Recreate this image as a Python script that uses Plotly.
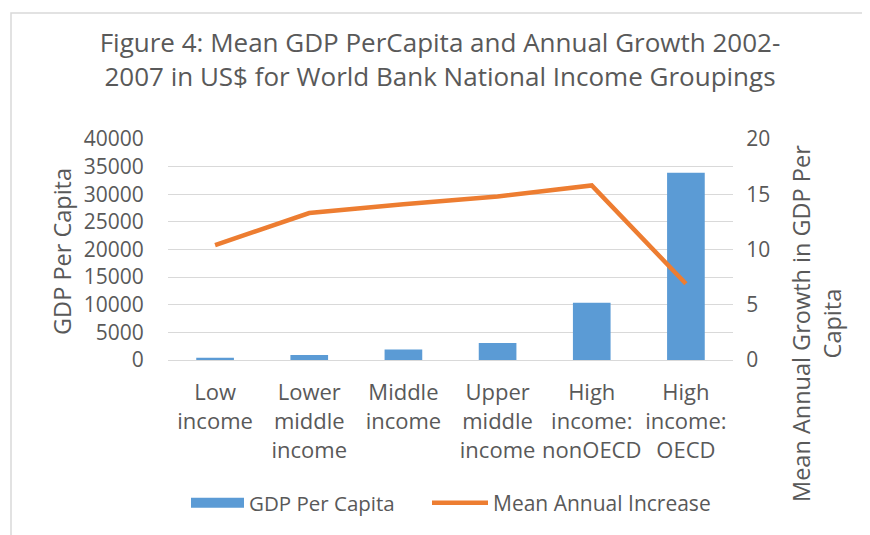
import plotly.graph_objects as go

categories = ["Low<br>income", "Lower<br>middle<br>income", "Middle<br>income",
              "Upper<br>middle<br>income", "High<br>income:<br>nonOECD", "High<br>income:<br>OECD"]
gdp_per_capita = [400, 900, 1920, 3070, 10360, 33900]
mean_annual_increase = [10.4, 13.3, 14.1, 14.8, 15.8, 6.9]

OFF = 8  # page body margin
W, H = 870 - OFF, 535 - OFF
L, R, T, B = 168 - OFF, 733 - OFF, 139 - OFF, 360 - OFF

def px(x):
    return (x - OFF - L) / (R - L)

def py(y):
    return (B - (y - OFF)) / (B - T)

TXT = "#595959"
FONT = "Open Sans"
BLUE = "#5B9BD5"
ORANGE = "#ED7D31"

fig = go.Figure()
fig.add_trace(go.Bar(x=categories, y=gdp_per_capita, name="GDP Per Capita", showlegend=False,
                     marker=dict(color=BLUE, line=dict(width=0)), width=0.4))
# legend entry for the bars drawn as a wide swatch (no data)
fig.add_trace(go.Scatter(x=[None], y=[None], name="GDP Per Capita", mode="lines",
                         line=dict(color=BLUE, width=14), legend="legend"))
fig.add_trace(go.Scatter(x=categories, y=mean_annual_increase, name="Mean Annual Increase",
                         yaxis="y2", mode="lines", legend="legend2",
                         line=dict(color=ORANGE, width=4.5)))

def leg(x, size, iw):
    return dict(orientation="h", x=px(x), xanchor="left", y=py(503), yanchor="middle",
                font=dict(size=size, color=TXT, family=FONT), itemwidth=iw,
                bgcolor="rgba(0,0,0,0)")

fig.update_layout(
    width=W, height=H,
    margin=dict(l=L, r=W - R, t=T, b=H - B, autoexpand=False),
    paper_bgcolor="white", plot_bgcolor="white",
    font=dict(family=FONT, color=TXT, size=20),
    title=dict(text="Figure 4: Mean GDP PerCapita and Annual Growth 2002-<br>2007 in US$ for World Bank National Income Groupings",
               x=(440 - OFF) / W, xanchor="center", xref="container",
               y=1 - (59 - OFF - 7) / H, yanchor="middle", yref="container",
               font=dict(family=FONT, size=26, color=TXT)),
    xaxis=dict(range=[-0.5, 5.5], showgrid=False, showline=True, linecolor="#D9D9D9",
               linewidth=1, ticks="outside", ticklen=13, tickcolor="rgba(0,0,0,0)",
               tickfont=dict(size=22, color=TXT)),
    yaxis=dict(range=[0, 40000], tickvals=[0, 5000, 10000, 15000, 20000, 25000, 30000, 35000, 40000],
               showgrid=True, gridcolor="#D9D9D9", gridwidth=1, zeroline=False,
               ticks="outside", ticklen=19, tickcolor="rgba(0,0,0,0)",
               tickfont=dict(size=21, color=TXT), tickformat="d"),
    yaxis2=dict(range=[0, 20], tickvals=[0, 5, 10, 15, 20], overlaying="y", side="right",
                showgrid=False, zeroline=False, ticks="outside", ticklen=8,
                tickcolor="rgba(0,0,0,0)", tickfont=dict(size=21, color=TXT)),
    legend=leg(186, 20.5, 53),
    legend2=leg(427, 21, 56),
    showlegend=True,
    bargap=0.6,
)

fig.add_annotation(text="GDP Per Capita", textangle=-90, xref="paper", yref="paper",
                   x=px(62), y=py(252), xanchor="center", yanchor="middle", showarrow=False,
                   font=dict(size=23.5, color=TXT, family=FONT))
fig.add_annotation(text="Mean Annual Growth in GDP Per<br>Capita", textangle=-90, xref="paper", yref="paper",
                   x=px(816), y=py(324), xanchor="center", yanchor="middle", showarrow=False,
                   font=dict(size=23.5, color=TXT, family=FONT))

fig.add_shape(type="rect", xref="paper", yref="paper",
              x0=px(11), x1=px(890), y0=py(560), y1=py(13),
              line=dict(color="#D9D9D9", width=1.5), fillcolor="rgba(0,0,0,0)", layer="below")

fig.write_html("out.html")
